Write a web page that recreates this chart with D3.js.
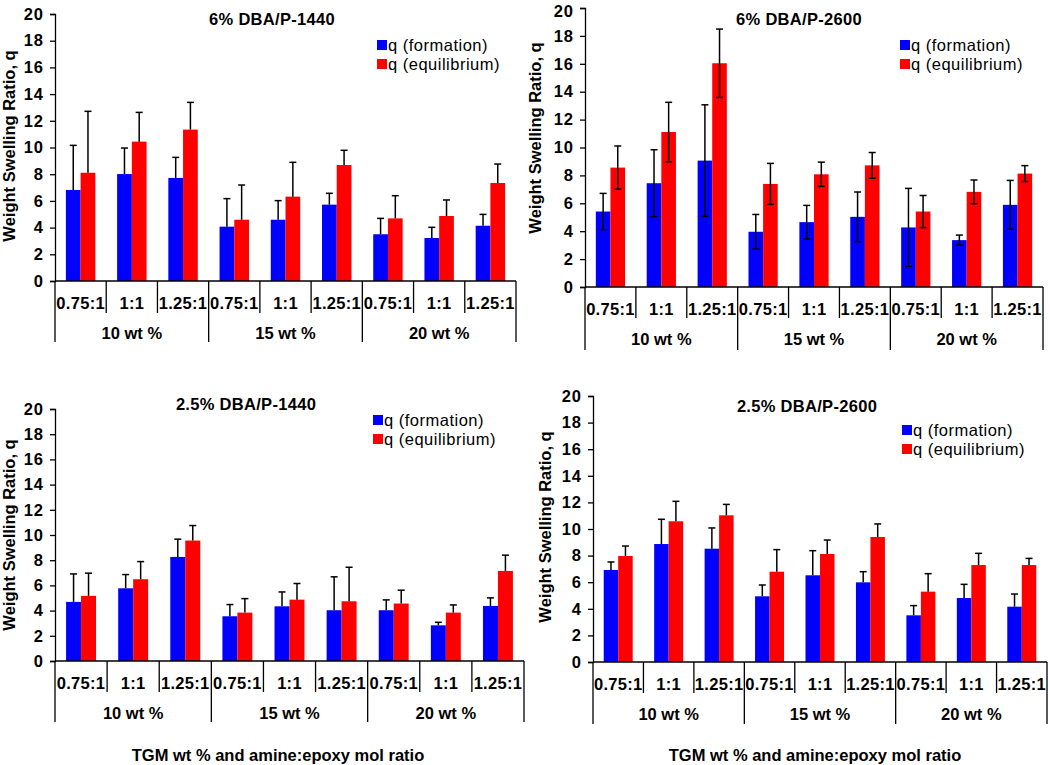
<!DOCTYPE html>
<html><head><meta charset="utf-8">
<script src="https://cdn.jsdelivr.net/npm/d3@7"></script>
<style>
html,body{margin:0;padding:0;background:#fff;}
svg text{font-family:Arial,"Liberation Sans",sans-serif;}
</style></head>
<body>
<svg id="chart" width="1050" height="765"></svg>
<script>
// ---------- DATA ----------
const ratios = ["0.75:1","1:1","1.25:1","0.75:1","1:1","1.25:1","0.75:1","1:1","1.25:1"];
const groups = ["10 wt %","15 wt %","20 wt %"];
const yTicks = [0,2,4,6,8,10,12,14,16,18,20];
const seriesNames = ["q (formation)","q (equilibrium)"];
const panelTitles = ["6% DBA/P-1440","6% DBA/P-2600","2.5% DBA/P-1440","2.5% DBA/P-2600"];
const yTitle = "Weight Swelling Ratio, q";
const xTitle = "TGM wt % and amine:epoxy mol ratio";

// 6% DBA/P-1440
const p6_1440_form    = [6.82, 8.01, 7.72, 4.07, 4.59, 5.72, 3.50, 3.22, 4.14];
const p6_1440_formErr = [3.34, 1.95, 1.54, 2.10, 1.43, 0.85, 1.19, 0.80, 0.85];
const p6_1440_eq      = [8.11, 10.44, 11.34, 4.59, 6.32, 8.69, 4.69, 4.87, 7.34];
const p6_1440_eqErr   = [4.60, 2.19, 2.04, 2.60, 2.57, 1.10, 1.70, 1.20, 1.42];
// 6% DBA/P-2600
const p6_2600_form    = [5.41, 7.44, 9.06, 3.96, 4.65, 5.03, 4.27, 3.36, 5.89];
const p6_2600_formErr = [1.30, 2.40, 4.00, 1.24, 1.20, 1.78, 2.80, 0.36, 1.75];
const p6_2600_eq      = [8.56, 11.11, 16.04, 7.39, 8.08, 8.72, 5.41, 6.82, 8.13];
const p6_2600_eqErr   = [1.55, 2.13, 2.45, 1.47, 0.87, 0.92, 1.15, 0.85, 0.57];
// 2.5% DBA/P-1440
const p25_1440_form    = [4.69, 5.77, 8.26, 3.55, 4.34, 4.03, 4.03, 2.83, 4.37];
const p25_1440_formErr = [2.22, 1.09, 1.41, 0.93, 1.14, 2.65, 0.82, 0.24, 0.64];
const p25_1440_eq      = [5.17, 6.49, 9.56, 3.84, 4.87, 4.74, 4.56, 3.84, 7.15];
const p25_1440_eqErr   = [1.80, 1.40, 1.19, 1.11, 1.28, 2.70, 1.06, 0.61, 1.25];
// 2.5% DBA/P-2600
const p25_2600_form    = [6.92, 8.87, 8.52, 4.94, 6.52, 5.99, 3.51, 4.81, 4.16];
const p25_2600_formErr = [0.60, 1.86, 1.56, 0.85, 1.85, 0.80, 0.73, 1.03, 0.95];
const p25_2600_eq      = [7.97, 10.58, 11.03, 6.79, 8.12, 9.40, 5.29, 7.29, 7.29];
const p25_2600_eqErr   = [0.75, 1.50, 0.82, 1.66, 1.05, 0.98, 1.35, 0.88, 0.50];

// ---------- LAYOUT ----------
const colors = ["#0000ff","#ff0000"];
const panels = [
  {title:panelTitles[0], form:p6_1440_form, formErr:p6_1440_formErr, eq:p6_1440_eq, eqErr:p6_1440_eqErr, both:false,
   x0:55, x1:516, yTop:14, yBase:281, catB:313, grpB:342, tx:272, ty:25, lx:377, ly:40, yl:{x:15,y:146}, xt:null, topShift:0},
  {title:panelTitles[1], form:p6_2600_form, formErr:p6_2600_formErr, eq:p6_2600_eq, eqErr:p6_2600_eqErr, both:true,
   x0:585, x1:1043, yTop:8, yBase:287, catB:318, grpB:350, tx:799, ty:25, lx:900, ly:40, yl:{x:541,y:138}, xt:null, topShift:3},
  {title:panelTitles[2], form:p25_1440_form, formErr:p25_1440_formErr, eq:p25_1440_eq, eqErr:p25_1440_eqErr, both:false,
   x0:55, x1:524, yTop:409, yBase:661, catB:692, grpB:722, tx:246, ty:410, lx:373, ly:415, yl:{x:15,y:535}, xt:{x:278,y:761}, topShift:0},
  {title:panelTitles[3], form:p25_2600_form, formErr:p25_2600_formErr, eq:p25_2600_eq, eqErr:p25_2600_eqErr, both:false,
   x0:593, x1:1047, yTop:396, yBase:662, catB:693, grpB:724, tx:807, ty:412, lx:902, ly:425, yl:{x:551,y:527}, xt:{x:815,y:761}, topShift:0}
];

const svg = d3.select("#chart");
const idx = d3.range(ratios.length);

panels.forEach(p => {
  const g = svg.append("g");
  const x = d3.scaleBand().domain(idx).range([p.x0, p.x1]).paddingInner(0).paddingOuter(0);
  const xs = d3.scaleBand().domain([0,1]).range([0, x.bandwidth()]).paddingInner(0).paddingOuter(0.74);
  const y = d3.scaleLinear().domain([0,20]).range([p.yBase, p.yTop]);

  // bars
  const vals = [p.form, p.eq];
  const errs = [p.formErr, p.eqErr];
  [0,1].forEach(s => {
    g.append("g").selectAll("rect").data(idx).join("rect")
      .attr("x", i => x(i) + xs(s))
      .attr("width", xs.bandwidth())
      .attr("y", i => y(vals[s][i]))
      .attr("height", i => y(0) - y(vals[s][i]))
      .attr("fill", colors[s]);
  });
  // error bars
  [0,1].forEach(s => {
    const eg = g.append("g").attr("stroke","#000").attr("stroke-width",1.5).attr("fill","none");
    idx.forEach(i => {
      const cx = x(i) + xs(s) + xs.bandwidth()/2;
      const v = vals[s][i], e = errs[s][i];
      const top = y(v + e), bot = p.both ? y(v - e) : y(v);
      eg.append("line").attr("x1",cx).attr("x2",cx).attr("y1",top).attr("y2",bot);
      eg.append("line").attr("x1",cx-3.5).attr("x2",cx+3.5).attr("y1",top).attr("y2",top);
      if (p.both) eg.append("line").attr("x1",cx-3.5).attr("x2",cx+3.5).attr("y1",bot).attr("y2",bot);
    });
  });

  // y axis
  const ya = g.append("g").attr("transform",`translate(${p.x0},0)`)
    .call(d3.axisLeft(y).tickValues(yTicks).tickSize(5).tickPadding(6).tickFormat(d3.format("d")));
  ya.select(".domain").attr("stroke","#000").attr("stroke-width",1.3);
  ya.selectAll(".tick line").attr("stroke","#000").attr("stroke-width",1.3);
  ya.selectAll(".tick text").attr("font-size",16.5).attr("font-weight","bold").attr("fill","#000")
    .attr("font-family","Arial, 'Liberation Sans', sans-serif").attr("letter-spacing",1)
    .attr("y", d => d === 20 ? p.topShift : 0);

  // x axis (multi-level)
  const xa = g.append("g").attr("stroke","#000").attr("stroke-width",1.3);
  xa.append("line").attr("x1",p.x0).attr("x2",p.x1).attr("y1",p.yBase).attr("y2",p.yBase);
  d3.range(ratios.length+1).forEach(k => {
    const xx = k < ratios.length ? x(k) : p.x1;
    const isGroup = k % 3 === 0;
    xa.append("line").attr("x1",xx).attr("x2",xx).attr("y1",p.yBase).attr("y2", isGroup ? p.grpB : p.catB);
  });
  g.append("g").selectAll("text").data(idx).join("text")
    .attr("x", i => x(i) + x.bandwidth()/2)
    .attr("y", p.yBase + 28)
    .attr("text-anchor","middle").attr("font-size",16.5).attr("font-weight","bold")
    .attr("letter-spacing",0.3)
    .text(i => ratios[i]);
  g.append("g").selectAll("text").data(groups).join("text")
    .attr("x", (d,j) => (x(j*3) + (j*3+3 < ratios.length ? x(j*3+3) : p.x1)) / 2)
    .attr("y", p.yBase + 58)
    .attr("text-anchor","middle").attr("font-size",16.5).attr("font-weight","bold")
    .text(d => d);

  // title
  g.append("text").attr("x",p.tx).attr("y",p.ty).attr("text-anchor","middle")
    .attr("font-size",16.5).attr("font-weight","bold").attr("letter-spacing",0.3).text(p.title);

  // legend
  seriesNames.forEach((nm, s) => {
    g.append("rect").attr("x",p.lx).attr("y",p.ly + s*19).attr("width",10).attr("height",10).attr("fill",colors[s]);
    g.append("text").attr("x",p.lx+11).attr("y",p.ly + s*19 + 11).attr("font-size",16.5)
      .attr("letter-spacing",0.5).text(nm);
  });

  // y title
  g.append("text").attr("transform",`translate(${p.yl.x},${p.yl.y}) rotate(-90)`)
    .attr("text-anchor","middle").attr("font-size",16.5).attr("font-weight","bold").text(yTitle);

  // x title
  if (p.xt) {
    g.append("text").attr("x",p.xt.x).attr("y",p.xt.y).attr("text-anchor","middle")
      .attr("font-size",16.5).attr("font-weight","bold").text(xTitle);
  }
});
</script>
</body></html>
